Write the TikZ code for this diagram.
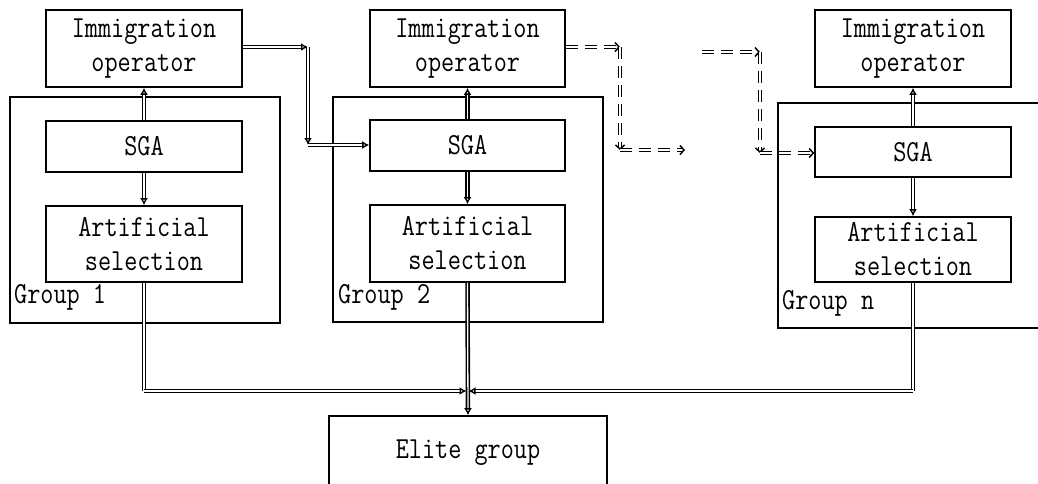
\documentclass[tikz,border=0pt]{standalone}
\usetikzlibrary{arrows.meta}
\newcommand\tl[1]{\scalebox{1}[1.2]{#1}}
\begin{document}
\begin{tikzpicture}[x=1pt,y=-1pt,
  box/.style={draw,line width=1.6pt,inner sep=0pt,align=center,
    font=\ttfamily\fontsize{25.5}{34}\selectfont},
  grp/.style={draw,line width=1.6pt,inner sep=0pt},
  lbl/.style={anchor=west,inner sep=0pt,font=\ttfamily\fontsize{25.5}{30}\selectfont},
  link/.style={double,double distance=1.3pt,line width=1.6pt,
    -{Latex[open,length=7pt,width=8pt]}},
  plain/.style={double,double distance=1.3pt,line width=1.6pt},
  dlink/.style={double,double distance=1.4pt,line width=1.3pt,dash pattern=on 12pt off 7pt,
    -{Straight Barb[length=4pt,width=9pt,line width=1.5pt]}}]
\useasboundingbox (0,0) rectangle (1038,483);
\clip (0,0) rectangle (1038,483);
% group frames
\node[grp,minimum width=270pt,minimum height=226pt] (g1) at (145,210) {};
\node[grp,minimum width=270pt,minimum height=225pt] (g2) at (468,209.5) {};
\node[grp,minimum width=272pt,minimum height=225pt] (g3) at (914,215.5) {};
% group 1
\node[box,minimum width=196pt,minimum height=77pt] (imm1) at (144,48.5) {\tl{Immigration}\\\tl{operator}};
\node[box,minimum width=196pt,minimum height=51pt] (sga1) at (144,146.5) {\tl{SGA}};
\node[box,minimum width=196pt,minimum height=76pt] (art1) at (144,244) {\tl{Artificial}\\\tl{selection}};
\node[lbl] (lg1) at (14,297) {\tl{Group 1}};
% group 2
\node[box,minimum width=195pt,minimum height=77pt] (imm2) at (467.5,48.5) {\tl{Immigration}\\\tl{operator}};
\node[box,minimum width=195pt,minimum height=51pt] (sga2) at (467.5,145.5) {\tl{SGA}};
\node[box,minimum width=195pt,minimum height=77pt] (art2) at (467.5,243.5) {\tl{Artificial}\\\tl{selection}};
\node[lbl] (lg2) at (338,297) {\tl{Group 2}};
% group n
\node[box,minimum width=196pt,minimum height=77pt] (imm3) at (913,48.5) {\tl{Immigration}\\\tl{operator}};
\node[box,minimum width=196pt,minimum height=50pt] (sga3) at (913,152) {\tl{SGA}};
\node[box,minimum width=196pt,minimum height=65pt] (art3) at (913,249.5) {\tl{Artificial}\\\tl{selection}};
\node[lbl] (lg3) at (782,303) {\tl{Group n}};
% elite
\node[box,minimum width=278pt,minimum height=74pt] (elite) at (468,453) {\tl{Elite group}};
% internal arrows
\draw[link] (sga1.north) -- (imm1.south);
\draw[link] (sga1.south) -- (art1.north);
\draw[link] (sga2.north) -- (imm2.south);
\draw[link] (sga2.south) -- (art2.north);
\draw[link] (sga3.north) -- (imm3.south);
\draw[link] (sga3.south) -- (art3.north);
% to elite
\coordinate (J) at (467.5,391);
\coordinate (b1) at (144,391);
\coordinate (b3) at (913,391);
\draw[plain] (art1.south) -- (b1);
\draw[link] (b1) -- ([xshift=-1pt]J);
\draw[plain] (art3.south) -- (b3);
\draw[link] (b3) -- ([xshift=1pt]J);
\draw[link] (art2.south) -- (elite.north);
% migration 1 -> 2
\coordinate (c1) at (308,47);
\coordinate (c2) at (308,145);
\draw[link] (imm1.east |- c1) -- (c1);
\draw[link] (c1) -- (c2);
\draw[link] (c2) -- (sga2.west |- c2);
% migration dashed
\coordinate (d1) at (620,47);
\coordinate (d2) at (620,150);
\coordinate (d3) at (685,150);
\draw[dlink] (imm2.east |- d1) -- (d1);
\draw[dlink] (d1) -- (d2);
\draw[dlink] (d2) -- (d3);
\coordinate (e0) at (702,52);
\coordinate (e1) at (760,52);
\coordinate (e2) at (760,153);
\draw[dlink] (e0) -- (e1);
\draw[dlink] (e1) -- (e2);
\draw[dlink] (e2) -- (sga3.west |- e2);
\end{tikzpicture}
\end{document}
